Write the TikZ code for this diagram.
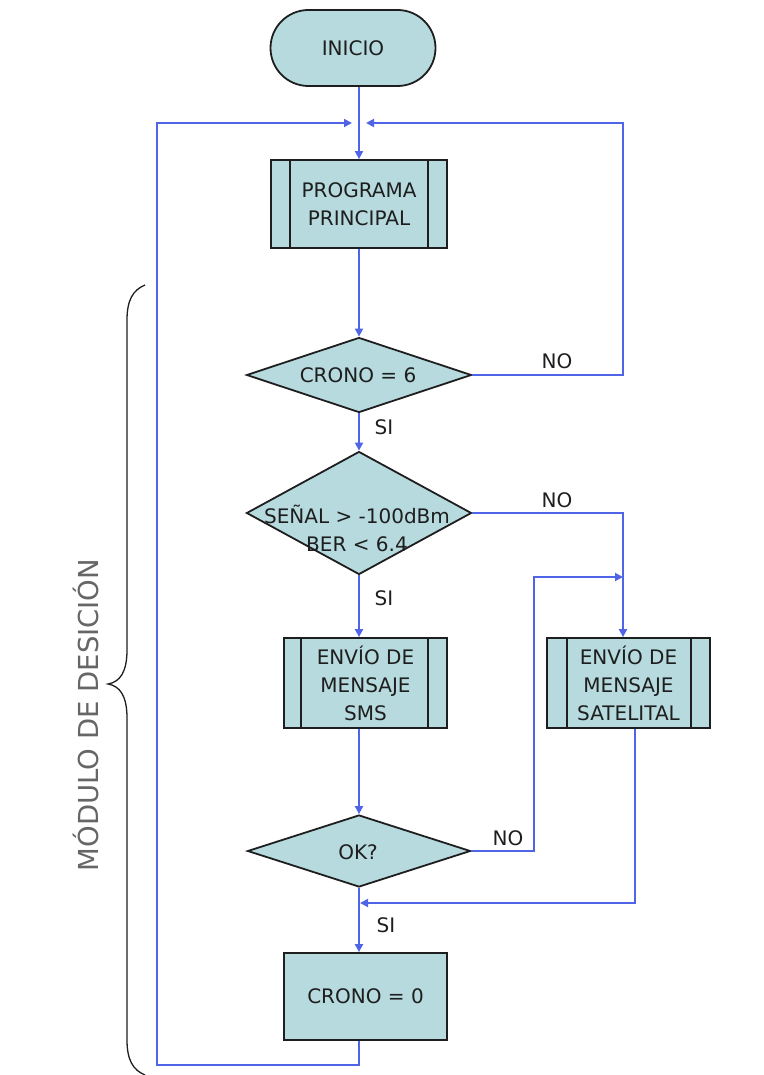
\documentclass[tikz,border=0pt]{standalone}
\usepackage{fontspec}
\setmainfont{DejaVu Sans}
\usetikzlibrary{shapes.geometric,shapes.misc,arrows.meta,calc}
\definecolor{boxfill}{RGB}{182,218,222}
\definecolor{flow}{RGB}{80,100,232}
\definecolor{ink}{RGB}{30,30,30}
\begin{document}
\begin{tikzpicture}[x=1pt,y=-1pt,
  font=\fontsize{20}{28}\selectfont,
  every node/.style={text=ink},
  blk/.style={draw=ink, line width=1.8pt, fill=boxfill, inner sep=0pt, align=center},
  term/.style={blk, rounded rectangle, minimum width=165pt, minimum height=76pt},
  proc/.style={blk, rectangle, minimum width=163pt, minimum height=90pt},
  dec/.style={blk, diamond, minimum width=225pt},
  bar/.style={draw=ink, line width=1.8pt},
  flowline/.style={draw=flow, line width=1.8pt},
  arr/.style={flowline, -{Triangle[length=8pt,width=8pt]}},
  lbl/.style={inner sep=0pt}
]
\useasboundingbox (0,0) rectangle (763,1075);

% nodes
\node[term] (inicio) at (353,48) {INICIO};
\node[proc, minimum width=176pt, minimum height=88pt] (pp) at (359,204) {PROGRAMA\\PRINCIPAL};
\draw[bar] ([xshift=20pt]pp.north west) -- ([xshift=20pt]pp.south west);
\draw[bar] ([xshift=-20pt]pp.north east) -- ([xshift=-20pt]pp.south east);

\node[dec, minimum height=75pt] (d1) at (359,375) {};
\node[lbl] (d1t) at (358,375) {CRONO = 6};

\node[dec, minimum height=123pt] (d2) at (359,513) {};
\node[lbl, align=center] (d2t) at (357,528) {SEÑAL > -100dBm\\BER < 6.4};

\node[proc] (sms) at (365.5,683) {ENVÍO DE\\MENSAJE\\SMS};
\draw[bar] ([xshift=18pt]sms.north west) -- ([xshift=18pt]sms.south west);
\draw[bar] ([xshift=-20pt]sms.north east) -- ([xshift=-20pt]sms.south east);

\node[proc] (sat) at (628.5,683) {ENVÍO DE\\MENSAJE\\SATELITAL};
\draw[bar] ([xshift=21pt]sat.north west) -- ([xshift=21pt]sat.south west);
\draw[bar] ([xshift=-20pt]sat.north east) -- ([xshift=-20pt]sat.south east);

\node[dec, minimum width=223pt, minimum height=72pt] (d3) at (359,851) {};
\node[lbl] (d3t) at (358,852) {OK?};

\node[blk, minimum width=163pt, minimum height=87pt] (c0) at (365.5,996.5) {CRONO = 0};

% coordinates
\coordinate (j) at (359,123);
\coordinate (rt) at (623,123);
\coordinate (r2) at (623,513);
\coordinate (v3) at (534,577);
\coordinate (m3) at (635,903);
\coordinate (bl) at (157,1065);
\coordinate (lt) at (157,123);

% connectors
\draw[flowline] (inicio.south -| j) -- (j);
\draw[arr] (j) -- (j |- pp.north);
\draw[arr] (j |- pp.south) -- (d1.north);
\draw[arr, shorten >=7pt] (d1.east) -| (rt) -- (j);
\draw[arr] (d1.south) -- (d2.north);
\draw[arr] (d2.east) -- (r2) -- (sat.north -| r2);
\draw[arr] (d2.south) -- (sms.north -| j);
\draw[arr] (sms.south -| j) -- (d3.north);
\draw[arr] (d3.east) -| (v3) -- (v3 -| r2);
\draw[arr, shorten >=1pt] (sat.south -| m3) |- (j |- m3);
\draw[arr] (d3.south) -- (c0.north -| j);
\draw[arr, shorten >=7pt] (c0.south -| j) |- (bl) -- (lt) -- (j);

% labels
\node[lbl] (no1) at (557,361) {NO};
\node[lbl] (si1) at (384,427) {SI};
\node[lbl] (no2) at (557,500) {NO};
\node[lbl] (si2) at (384,598) {SI};
\node[lbl] (no3) at (508,838) {NO};
\node[lbl] (si3) at (386,925) {SI};

% brace
\draw[ink, line width=1.3pt] (145,285) .. controls (133,290) and (127,300) .. (127,320)
  -- (127,650) .. controls (127,672) and (120,682) .. (108,684)
  .. controls (120,686) and (127,696) .. (127,718)
  -- (127,1040) .. controls (127,1060) and (133,1070) .. (145,1075);
\node[rotate=90, font=\fontsize{27.5}{30}\selectfont, text=black!60] (mod) at (86,715) {MÓDULO DE DESICIÓN};
\end{tikzpicture}
\end{document}
